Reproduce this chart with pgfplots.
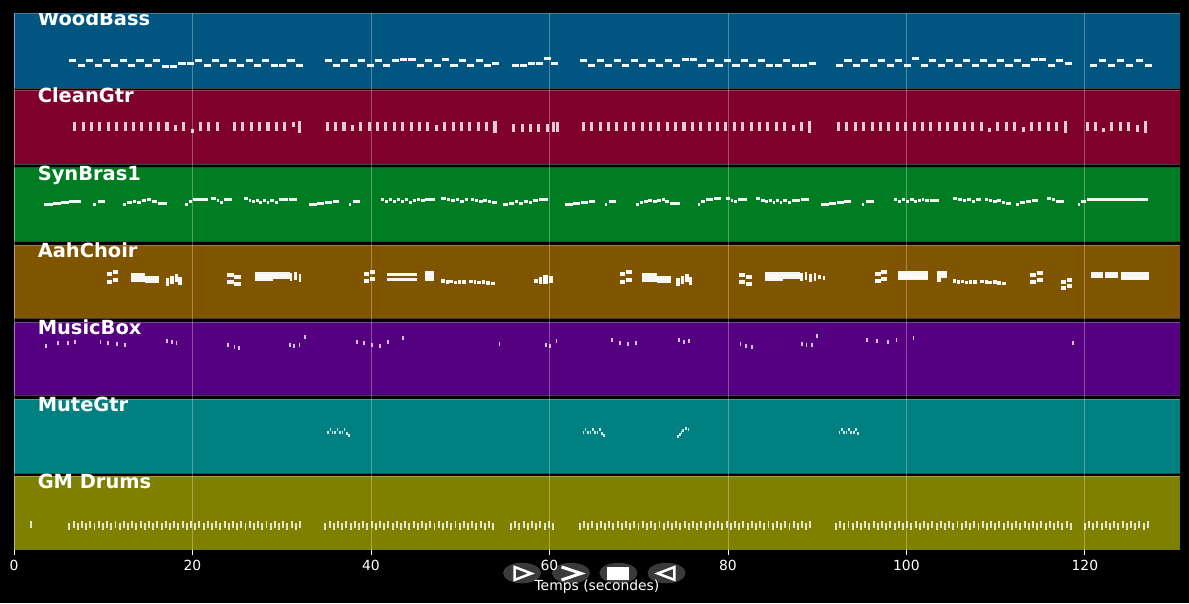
\documentclass[border=0pt]{standalone}
\usepackage{pgfplots}
\usepackage{pgfplotstable}
\pgfplotsset{compat=1.18}
\usepackage{fontspec}
\setmainfont{DejaVu Sans}
\definecolor{cBass}{RGB}{0,86,128}
\definecolor{cGtr}{RGB}{128,0,44}
\definecolor{cBrass}{RGB}{0,125,35}
\definecolor{cChoir}{RGB}{128,85,0}
\definecolor{cBox}{RGB}{85,0,128}
\definecolor{cMute}{RGB}{0,128,128}
\definecolor{cDrum}{RGB}{128,128,0}
\definecolor{btn}{RGB}{58,58,58}

\pgfplotstableread{
x y h
6.8 419.5 9
7.74 419.5 9
8.68 419.5 9
9.62 419.5 9
10.56 419.5 9
11.5 419.5 9
12.44 419.5 9
13.38 419.5 9
14.32 419.5 9
15.26 419.5 9
16.2 419.5 9
17.14 419.5 9
18.08 419.5 6
19.02 419.5 9
19.96 417.5 4
20.9 419.5 9
21.84 419.5 9
22.78 419.5 9
24.7 419.5 9
25.64 419.5 9
26.58 419.5 9
27.52 419.5 9
28.46 419.5 9
29.4 419.5 9
30.34 419.5 9
31.28 423 5
32.0 417 12
35.1 419.5 9
36.04 419.5 9
36.98 419.5 9
37.92 419.5 6
38.86 419.5 9
39.8 419.5 9
40.74 419.5 9
41.68 419.5 9
42.62 419.5 9
43.56 419.5 9
44.5 419.5 9
45.44 419.5 9
46.38 419.5 9
47.32 419.5 6
48.26 419.5 9
49.2 419.5 9
50.14 419.5 9
51.08 419.5 9
52.02 419.5 9
52.96 419.5 9
53.9 417 12
56.0 418 8
56.94 418 8
57.88 418 8
58.82 418 8
59.76 418 8
60.5 418 10
60.85 418 10
63.8 419.5 9
64.74 419.5 9
65.68 419.5 9
66.62 419.5 9
67.56 419.5 9
68.5 419.5 9
69.44 419.5 9
70.38 419.5 9
71.32 419.5 9
72.26 419.5 9
73.2 419.5 9
74.14 419.5 9
75.08 419.5 9
76.02 419.5 9
76.96 419.5 9
77.9 419.5 9
78.84 419.5 9
79.78 419.5 9
80.72 419.5 9
81.66 419.5 9
82.6 419.5 9
83.54 419.5 9
84.48 419.5 9
85.42 419.5 9
86.36 419.5 9
87.3 419.5 6
88.24 419.5 9
89.18 417 12
92.4 419.5 9
93.34 419.5 9
94.28 419.5 9
95.22 419.5 9
96.16 419.5 9
97.1 419.5 9
98.04 419.5 9
98.98 419.5 9
99.92 419.5 9
100.86 419.5 9
101.8 419.5 9
102.74 419.5 9
103.68 419.5 9
104.62 419.5 9
105.56 419.5 9
106.5 419.5 9
107.44 419.5 9
108.38 419.5 9
109.32 418 4
110.26 419.5 9
111.2 419.5 9
112.14 419.5 9
113.08 418 5
114.02 419.5 9
114.96 419.5 9
115.9 419.5 9
116.84 419.5 9
117.78 417 12
120.3 419.5 9
121.2 419.5 9
122.1 418 4
123.0 419.5 9
124.0 419.5 9
124.9 419.5 9
125.9 418 7
126.8 417 12
}\gtrtable

\pgfplotstableread{
x y d
3.4 346 1.0
4.4 346.5 0.9
5.3 347.5 0.9
6.2 349 1.3
8.9 346 0.3
9.4 349 0.8
12.2 346 0.3
12.7 348 0.5
13.3 349 0.4
13.8 348 0.4
14.3 349.5 0.5
14.9 350.5 0.5
15.5 349 0.5
16.1 347 1.0
19.2 345.5 0.3
19.6 348.5 0.4
20.1 351 0.8
21.0 351 0.7
22.1 351.5 0.5
22.7 350 0.3
23.1 348 0.3
23.5 351 0.9
25.8 351.5 0.4
26.3 350 0.3
26.7 348.5 0.3
27.1 350 0.3
27.5 348 0.3
27.9 350 0.3
28.3 348 0.3
28.7 349.5 0.4
29.2 348 0.4
29.7 350.5 1.0
30.8 351 0.9
33.0 346 0.9
33.9 346.5 0.8
34.8 347.5 0.8
35.7 349 0.7
37.5 346 0.3
38.0 349 0.8
41.1 350.5 0.4
41.6 348.5 0.3
42.0 350.5 0.4
42.5 348.5 0.3
42.9 350.5 0.4
43.4 348.5 0.3
43.8 350.5 0.4
44.3 348 0.3
44.7 350 0.4
45.2 351 0.3
45.6 349.5 0.4
46.1 351 1.1
47.9 352 0.5
48.5 351 0.4
49.0 349.5 0.4
49.5 351 0.4
50.0 349 0.4
50.5 350.5 0.4
51.2 351 0.4
51.7 350 0.3
52.1 348.5 0.4
52.6 349.5 0.4
53.1 348.5 0.4
53.6 347.5 0.5
54.8 346 0.6
55.5 347 0.5
56.1 348.5 0.4
56.6 347 0.4
57.1 349 0.5
57.7 348 0.4
58.2 350 0.5
58.8 351 1.0
61.7 346 0.9
62.6 346.5 0.8
63.5 347.5 0.8
64.4 349 0.7
66.2 346 0.3
66.7 349 0.8
69.7 346 0.3
70.1 348 0.4
70.6 349 0.4
71.1 349.5 0.4
71.6 349 0.4
72.1 350 0.4
72.6 351 0.3
73.0 349 0.4
73.5 347 1.1
76.6 345.5 0.3
77.0 348.5 0.4
77.5 351 0.8
78.4 351.5 0.8
79.8 351.5 0.4
80.3 350 0.3
80.7 348.5 0.3
81.1 351 1.0
83.1 352 0.5
83.7 350 0.4
84.2 348.5 0.3
84.6 350 0.3
85.0 348 0.3
85.4 350 0.3
85.8 348 0.3
86.2 349.5 0.4
86.7 348 0.4
87.2 350 0.9
88.2 350.5 0.9
90.4 345.5 0.9
91.3 346.5 0.8
92.2 347.5 0.8
93.0 349 0.8
95.0 346 0.3
95.5 349 0.9
98.6 350.5 0.4
99.1 349 0.3
99.5 350.5 0.4
100.0 349 0.3
100.4 350.5 0.4
100.9 348.5 0.3
101.3 350 0.3
101.7 351 0.3
102.1 349.5 0.4
102.6 350 1.0
105.2 352 0.5
105.8 351 0.4
106.3 349.5 0.4
106.8 351 0.4
107.3 349 0.4
107.8 350.5 0.6
108.8 351 0.4
109.3 350 0.3
109.7 348.5 0.4
110.2 349.5 0.4
110.7 348 0.4
111.2 347 0.5
112.3 345.5 0.3
112.7 348 0.6
113.4 349 0.6
114.1 349.5 0.6
115.8 351.5 0.4
116.3 350.5 0.4
116.8 349 0.9
119.2 346 0.3
119.6 349 0.5
120.2 351 6.9
}\brasstable

\pgfplotstableread{
x y d
10.4 276 0.6
11.1 278 0.6
10.4 268 0.6
11.1 270 0.6
13.1 275.5 1.6
13.1 272.5 1.6
13.1 269.5 1.6
14.7 272 1.6
14.7 269 1.6
17.0 266 0.4
17.0 270 0.4
17.5 268 0.4
17.5 272 0.4
18.0 270 0.4
18.0 274 0.4
18.4 267 0.4
18.4 271 0.4
23.9 275 0.7
24.7 273 0.7
23.9 268 0.7
24.7 266 0.7
27.0 276 3.9
27.0 273 3.9
27.0 270.5 2.0
30.9 275 0.3
30.9 271 0.3
31.4 276 0.3
31.4 272 0.3
31.9 274 0.3
31.9 270 0.3
39.2 276 0.6
39.9 278 0.6
39.2 269 0.6
39.9 271 0.6
41.8 275.5 3.4
41.8 270.5 3.4
46.0 277 1.1
46.0 274 1.1
46.0 270.5 1.1
47.9 269 0.4
48.4 268 0.3
48.8 268.5 0.4
49.3 267.5 0.3
49.7 268 0.4
50.2 268 0.4
51.0 268.5 0.4
51.5 268 0.3
51.9 267.5 0.4
52.4 268 0.4
52.9 267 0.4
53.4 266.5 0.5
58.3 269 0.4
58.8 271 0.4
58.8 268 0.4
59.3 273 0.5
59.3 270 0.5
59.3 267.5 0.5
59.9 272 0.5
59.9 269 0.5
67.9 276 0.6
68.6 278 0.6
67.9 268 0.6
68.6 270 0.6
70.4 275.5 1.6
70.4 272.5 1.6
70.4 269.5 1.6
72.0 272 1.6
72.0 269 1.6
74.2 266 0.4
74.2 270 0.4
74.7 268 0.4
74.7 272 0.4
75.2 270 0.4
75.2 274 0.4
75.6 267 0.4
75.6 271 0.4
81.2 275 0.7
82.0 273 0.7
81.2 268 0.7
82.0 266 0.7
84.2 276 3.9
84.2 273 3.9
84.2 270.5 2.0
88.1 275 0.3
88.1 271 0.3
88.6 276 0.3
88.6 272 0.3
89.1 274 0.3
89.1 270 0.3
89.6 275 0.3
89.6 271 0.3
90.1 273 0.3
90.6 272 0.3
96.5 276 0.6
97.2 278 0.6
96.5 269 0.6
97.2 271 0.6
99.1 277 3.3
99.1 274 3.3
99.1 272 3.3
103.4 277 1.1
103.4 274 1.1
103.4 270 0.5
105.2 269 0.4
105.7 268 0.3
106.1 268.5 0.4
106.6 267.5 0.3
107.0 268 0.4
107.5 268 0.4
108.3 268.5 0.4
108.8 268 0.3
109.2 267.5 0.4
109.7 268 0.4
110.2 267 0.4
110.7 266.5 0.5
113.8 268 0.7
114.6 270 0.7
113.8 275 0.7
114.6 277 0.7
117.3 268 0.6
118.0 270 0.6
117.3 262 0.6
118.0 264 0.6
120.7 276.5 1.3
120.7 273.5 1.3
122.3 276.5 1.4
122.3 273.5 1.4
124.0 276.5 3.2
124.0 273.5 3.2
124.0 271.5 3.2
}\choirtable

\begin{document}
\begin{tikzpicture}
\fill[black] (-10.1pt,-38.2pt) rectangle (846pt,396pt);
% overlay buttons
\fill[btn] (365.8pt,-16.6pt) ellipse [x radius=13.7pt, y radius=7.4pt];
\fill[btn] (401.0pt,-16.6pt) ellipse [x radius=13.7pt, y radius=7.4pt];
\fill[btn] (435.2pt,-16.6pt) ellipse [x radius=13.7pt, y radius=7.4pt];
\fill[btn] (469.8pt,-16.6pt) ellipse [x radius=13.7pt, y radius=7.4pt];
\draw[white, line width=1.8pt, line join=miter] (360.5pt,-12.3pt) -- (372.5pt,-16.9pt) -- (360.5pt,-21.5pt) -- cycle;
\draw[white, line width=2.2pt] (394.2pt,-12.2pt) -- (408.2pt,-16.9pt) -- (394.2pt,-21.6pt);
\fill[white] (427.3pt,-21.9pt) rectangle (443.1pt,-11.9pt);
\draw[white, line width=1.8pt, line join=miter] (475.5pt,-12.3pt) -- (463.5pt,-16.9pt) -- (475.5pt,-21.5pt) -- cycle;
\begin{axis}[
  at={(0pt,0pt)}, anchor=south west,
  scale only axis, width=839.5pt, height=386.6pt,
  xmin=0, xmax=130.66, ymin=0, ymax=537,
  axis on top,
  axis line style={draw=none},
  xtick={0,20,40,60,80,100,120}, ytick=\empty,
  xtick pos=lower,
  tick align=outside,
  major tick length=3.5pt,
  tick style={white, line width=0.6pt},
  xmajorgrids,
  grid style={white, opacity=0.3, line width=0.6pt},
  xticklabel style={white, font=\fontsize{10}{12}\selectfont},
  /pgf/number format/assume math mode=true,
  xlabel={Temps (secondes)},
  xlabel style={white, font=\fontsize{10}{12}\selectfont},
]
% lanes
\addplot[fill=cBass, draw=white, draw opacity=0.25, line width=0.7pt] coordinates {(0,462)(130.66,462)(130.66,537)(0,537)} -- cycle;
\addplot[fill=cGtr, draw=white, draw opacity=0.25, line width=0.7pt] coordinates {(0,386)(130.66,386)(130.66,460)(0,460)} -- cycle;
\addplot[fill=cBrass, draw=white, draw opacity=0.25, line width=0.7pt] coordinates {(0,309)(130.66,309)(130.66,382.5)(0,382.5)} -- cycle;
\addplot[fill=cChoir, draw=white, draw opacity=0.25, line width=0.7pt] coordinates {(0,232)(130.66,232)(130.66,305)(0,305)} -- cycle;
\addplot[fill=cBox, draw=white, draw opacity=0.25, line width=0.7pt] coordinates {(0,155)(130.66,155)(130.66,228)(0,228)} -- cycle;
\addplot[fill=cMute, draw=white, draw opacity=0.25, line width=0.7pt] coordinates {(0,77)(130.66,77)(130.66,151)(0,151)} -- cycle;
\addplot[fill=cDrum, draw=white, draw opacity=0.25, line width=0.7pt] coordinates {(0,0)(130.66,0)(130.66,74)(0,74)} -- cycle;

% WoodBass
\addplot[white, opacity=0.95, line width=2.2pt, quiver={u=0.8, v=0}] coordinates {
(6.2,489.5)(7.14,484.5)(8.08,489.5)(9.02,484.5)(9.96,489.5)(10.9,484.5)(11.84,489.5)(12.78,484.5)(13.72,489.5)(14.66,484.5)(15.6,489.5)(16.54,484)(17.48,484)(18.42,487)(19.36,487)(20.3,489.5)(21.24,484.5)(22.18,489.5)(23.12,484.5)(24.06,489.5)(25.0,484.5)(25.94,489.5)(26.88,484.5)(27.82,489.5)(28.76,484.5)(29.7,484.5)(30.64,489.5)(31.58,484.5)
(34.8,489.5)(35.74,484.5)(36.68,489.5)(37.62,484.5)(38.56,489.5)(39.5,484.5)(40.44,489.5)(41.38,484.5)(42.32,489.5)(43.26,491)(44.2,491)(45.14,484.5)(46.08,489.5)(47.02,484.5)(47.96,491)(48.9,484.5)(49.84,489.5)(50.78,484.5)(51.72,489.5)(52.66,484.5)(53.6,487)
(55.8,484.5)(56.7,484.5)(57.6,487)(58.5,487)(59.4,492)(60.2,487)
(63.4,489.5)(64.35,484.5)(65.3,489.5)(66.25,484.5)(67.2,489.5)(68.15,484.5)(69.1,489.5)(70.05,484.5)(71.0,489.5)(71.95,484.5)(72.9,489.5)(73.85,484.5)(74.8,491)(75.75,491)(76.7,484.5)(77.65,489.5)(78.6,484.5)(79.55,489.5)(80.5,484.5)(81.45,489.5)(82.4,484.5)(83.35,489.5)(84.3,484.5)(85.25,484.5)(86.2,489.5)(87.15,484.5)(88.1,484.5)(89.05,487)
(92.1,484.5)(93.05,489.5)(94.0,484.5)(94.95,489.5)(95.9,484.5)(96.85,489.5)(97.8,484.5)(98.75,489.5)(99.7,484.5)(100.65,492)(101.6,484.5)(102.55,489.5)(103.5,484.5)(104.45,489.5)(105.4,484.5)(106.35,489.5)(107.3,484.5)(108.25,489.5)(109.2,484.5)(110.15,489.5)(111.1,484.5)(112.05,489.5)(113.0,484.5)(113.95,491)(114.9,491)(115.85,484.5)(116.8,489.5)(117.75,487)
(120.6,484.5)(121.55,489.5)(122.6,484.5)(123.6,489.5)(124.65,484.5)(125.7,489.5)(126.75,484.5)
};
% CleanGtr
\addplot[white, opacity=0.8, line width=2.2pt, quiver={u=0, v=\thisrow{h}}] table {\gtrtable};
% SynBras1
\addplot[white, opacity=0.95, line width=2.2pt, quiver={u=\thisrow{d}, v=0}] table {\brasstable};
% AahChoir
\addplot[white, opacity=0.95, line width=2.3pt, quiver={u=\thisrow{d}, v=0}] table {\choirtable};
% MusicBox
\addplot[white, opacity=0.75, line width=1.3pt, quiver={u=0, v=4}] coordinates {
(3.6,202)(4.93,205)(6.09,205)(6.84,206)(9.7,206)(10.5,205)(11.5,204)(12.4,203)(17.1,207)(17.7,206)(18.2,205)(24.0,203)(24.7,201)(25.2,200)(30.9,203)(31.4,202)(32.0,203)(32.6,211)(38.4,206)(39.2,205)(40.1,203)(41.0,202)(41.9,206)(43.6,210)(54.4,204)(59.6,203)(60.1,202)(60.8,207)(67.0,208)(67.9,205)(68.8,204)(69.7,205)(74.5,208)(75.1,206)(75.6,207)(81.4,204)(82.0,202)(82.7,201)(88.3,204)(88.8,203)(89.4,203)(90.0,212)(95.6,208)(96.7,207)(97.9,206)(98.9,208)(100.8,210)(118.7,205)
};
% MuteGtr
\addplot[white, opacity=0.8, line width=1.2pt, quiver={u=0, v=3}] coordinates {
(35.2,116)(35.45,119)(35.7,116)(36.0,116)(36.25,119)(36.5,116)(36.8,116)(37.05,119)(37.3,115)(37.55,113)
(63.8,116)(64.05,119)(64.3,116)(64.6,116)(64.85,119)(65.1,116)(65.4,116)(65.65,119)(65.9,115)(66.15,113)
(74.4,112)(74.6,114)(74.8,116)(75.0,118)(75.3,120)(75.6,119)
(92.5,116)(92.75,119)(93.0,116)(93.3,116)(93.55,119)(93.8,116)(94.1,116)(94.35,119)(94.6,115)
};
% GM Drums
\addplot[white, opacity=0.8, line width=1.4pt, quiver={u=0, v=7}] coordinates {
(1.85,22)
(6.2,20)(6.67,21.5)(7.14,20)(7.61,21.5)(8.08,20)(8.55,21.5)(9.02,20)(9.49,21.5)(9.96,20)(10.43,21.5)(10.9,20)(11.37,21.5)(11.84,20)(12.31,21.5)(12.78,20)(13.25,21.5)(13.72,20)(14.19,21.5)(14.66,20)(15.13,21.5)(15.6,20)(16.07,21.5)(16.54,20)(17.01,21.5)(17.48,20)(17.95,21.5)(18.42,20)(18.89,21.5)(19.36,20)(19.83,21.5)(20.3,20)(20.77,21.5)(21.24,20)(21.71,21.5)(22.18,20)(22.65,21.5)(23.12,20)(23.59,21.5)(24.06,20)(24.53,21.5)(25.0,20)(25.47,21.5)(25.94,20)(26.41,21.5)(26.88,20)(27.35,21.5)(27.82,20)(28.29,21.5)(28.76,20)(29.23,21.5)(29.7,20)(30.17,21.5)(30.64,20)(31.11,21.5)(31.58,20)(32.05,21.5)
(34.9,20)(35.37,21.5)(35.84,20)(36.31,21.5)(36.78,20)(37.25,21.5)(37.72,20)(38.19,21.5)(38.66,20)(39.13,21.5)(39.6,20)(40.07,21.5)(40.54,20)(41.01,21.5)(41.48,20)(41.95,21.5)(42.42,20)(42.89,21.5)(43.36,20)(43.83,21.5)(44.3,20)(44.77,21.5)(45.24,20)(45.71,21.5)(46.18,20)(46.65,21.5)(47.12,20)(47.59,21.5)(48.06,20)(48.53,21.5)(49.0,20)(49.47,21.5)(49.94,20)(50.41,21.5)(50.88,20)(51.35,21.5)(51.82,20)(52.29,21.5)(52.76,20)(53.23,21.5)(53.7,20)
(55.7,20)(56.17,21.5)(56.64,20)(57.11,21.5)(57.58,20)(58.05,21.5)(58.52,20)(58.99,21.5)(59.46,20)(59.93,21.5)(60.4,20)
(63.4,20)(63.87,21.5)(64.34,20)(64.81,21.5)(65.28,20)(65.75,21.5)(66.22,20)(66.69,21.5)(67.16,20)(67.63,21.5)(68.1,20)(68.57,21.5)(69.04,20)(69.51,21.5)(69.98,20)(70.45,21.5)(70.92,20)(71.39,21.5)(71.86,20)(72.33,21.5)(72.8,20)(73.27,21.5)(73.74,20)(74.21,21.5)(74.68,20)(75.15,21.5)(75.62,20)(76.09,21.5)(76.56,20)(77.03,21.5)(77.5,20)(77.97,21.5)(78.44,20)(78.91,21.5)(79.38,20)(79.85,21.5)(80.32,20)(80.79,21.5)(81.26,20)(81.73,21.5)(82.2,20)(82.67,21.5)(83.14,20)(83.61,21.5)(84.08,20)(84.55,21.5)(85.02,20)(85.49,21.5)(85.96,20)(86.43,21.5)(86.9,20)(87.37,21.5)(87.84,20)(88.31,21.5)(88.78,20)(89.25,21.5)
(92.1,20)(92.57,21.5)(93.04,20)(93.51,21.5)(93.98,20)(94.45,21.5)(94.92,20)(95.39,21.5)(95.86,20)(96.33,21.5)(96.8,20)(97.27,21.5)(97.74,20)(98.21,21.5)(98.68,20)(99.15,21.5)(99.62,20)(100.09,21.5)(100.56,20)(101.03,21.5)(101.5,20)(101.97,21.5)(102.44,20)(102.91,21.5)(103.38,20)(103.85,21.5)(104.32,20)(104.79,21.5)(105.26,20)(105.73,21.5)(106.2,20)(106.67,21.5)(107.14,20)(107.61,21.5)(108.08,20)(108.55,21.5)(109.02,20)(109.49,21.5)(109.96,20)(110.43,21.5)(110.9,20)(111.37,21.5)(111.84,20)(112.31,21.5)(112.78,20)(113.25,21.5)(113.72,20)(114.19,21.5)(114.66,20)(115.13,21.5)(115.6,20)(116.07,21.5)(116.54,20)(117.01,21.5)(117.48,20)(117.95,21.5)(118.42,20)
(120.0,20)(120.47,21.5)(120.94,20)(121.41,21.5)(121.88,20)(122.35,21.5)(122.82,20)(123.29,21.5)(123.76,20)(124.23,21.5)(124.7,20)(125.17,21.5)(125.64,20)(126.11,21.5)(126.58,20)(127.05,21.5)
};
% lane labels
\node[anchor=base west, inner sep=0pt, white, font=\bfseries\fontsize{14}{16}\selectfont] at (2.63,524.5) {WoodBass};
\node[anchor=base west, inner sep=0pt, white, font=\bfseries\fontsize{14}{16}\selectfont] at (2.63,447.5) {CleanGtr};
\node[anchor=base west, inner sep=0pt, white, font=\bfseries\fontsize{14}{16}\selectfont] at (2.63,370) {SynBras1};
\node[anchor=base west, inner sep=0pt, white, font=\bfseries\fontsize{14}{16}\selectfont] at (2.63,292.5) {AahChoir};
\node[anchor=base west, inner sep=0pt, white, font=\bfseries\fontsize{14}{16}\selectfont] at (2.63,215.5) {MusicBox};
\node[anchor=base west, inner sep=0pt, white, font=\bfseries\fontsize{14}{16}\selectfont] at (2.63,138.5) {MuteGtr};
\node[anchor=base west, inner sep=0pt, white, font=\bfseries\fontsize{14}{16}\selectfont] at (2.63,61.5) {GM Drums};
\end{axis}
\path[use as bounding box] (-10.1pt,-38.2pt) rectangle (846pt,396pt);
\end{tikzpicture}
\end{document}
